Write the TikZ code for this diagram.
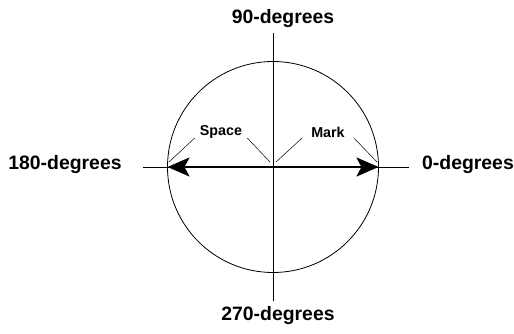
\documentclass[tikz,border=0pt]{standalone}
\usepackage{fontspec}
\setmainfont{Liberation Sans}
\usetikzlibrary{arrows.meta}

\tikzset{
    degreelabel/.style={font=\bfseries\fontsize{19.4}{22}\selectfont, inner sep=0pt},
    sidelabel/.style={font=\bfseries\fontsize{14.3}{16}\selectfont, inner sep=0pt},
    thinline/.style={line width=0.8pt},
    leader/.style={line width=0.5pt}
}

\begin{document}
\begin{tikzpicture}[x=1pt, y=-1pt]

    \useasboundingbox (0,0) rectangle (514,334);

    % ==========================================
    % Axes and circle
    % ==========================================

    \coordinate (O) at (273,167);
    \coordinate (top) at (273,33);
    \coordinate (bottom) at (273,301);
    \coordinate (left) at (143,167);
    \coordinate (right) at (409,167);

    % Circle
    \draw[thinline] (O) circle [radius=105.5pt];

    % Cross lines
    \draw[thinline] (top) -- (bottom);
    \draw[thinline] (left) -- (right);

    % Points where the circle meets the horizontal line
    \coordinate (west) at (167.5,167);
    \coordinate (east) at (378.5,167);

    % Thick double arrow
    \draw[line width=2.6pt, {Stealth[length=22pt,width=19pt,inset=5pt]}-{Stealth[length=22pt,width=19pt,inset=5pt]}] (west) -- (east);

    % ==========================================
    % Degree labels
    % ==========================================

    \node[degreelabel] (deg90) at (283,19) {90-degrees};
    \node[degreelabel] (deg270) at (278,316) {270-degrees};
    \node[degreelabel] (deg180) at (65,165) {180-degrees};
    \node[degreelabel] (deg0) at (468,165) {0-degrees};

    % ==========================================
    % Space and Mark with leader lines
    % ==========================================

    \node[sidelabel] (space) at (221,132) {Space};
    \node[sidelabel] (mark) at (328,132) {Mark};

    \coordinate (spacewest) at (169,162);
    \coordinate (spacecenter) at (270,162);
    \coordinate (markcenter) at (276,162);
    \coordinate (markeast) at (377,162);

    \draw[leader] (space.west) ++(-5,6) -- (spacewest);
    \draw[leader] (space.east) ++(5,6) -- (spacecenter);
    \draw[leader] (mark.west) ++(-9,6) -- (markcenter);
    \draw[leader] (mark.east) ++(9,6) -- (markeast);

\end{tikzpicture}
\end{document}
